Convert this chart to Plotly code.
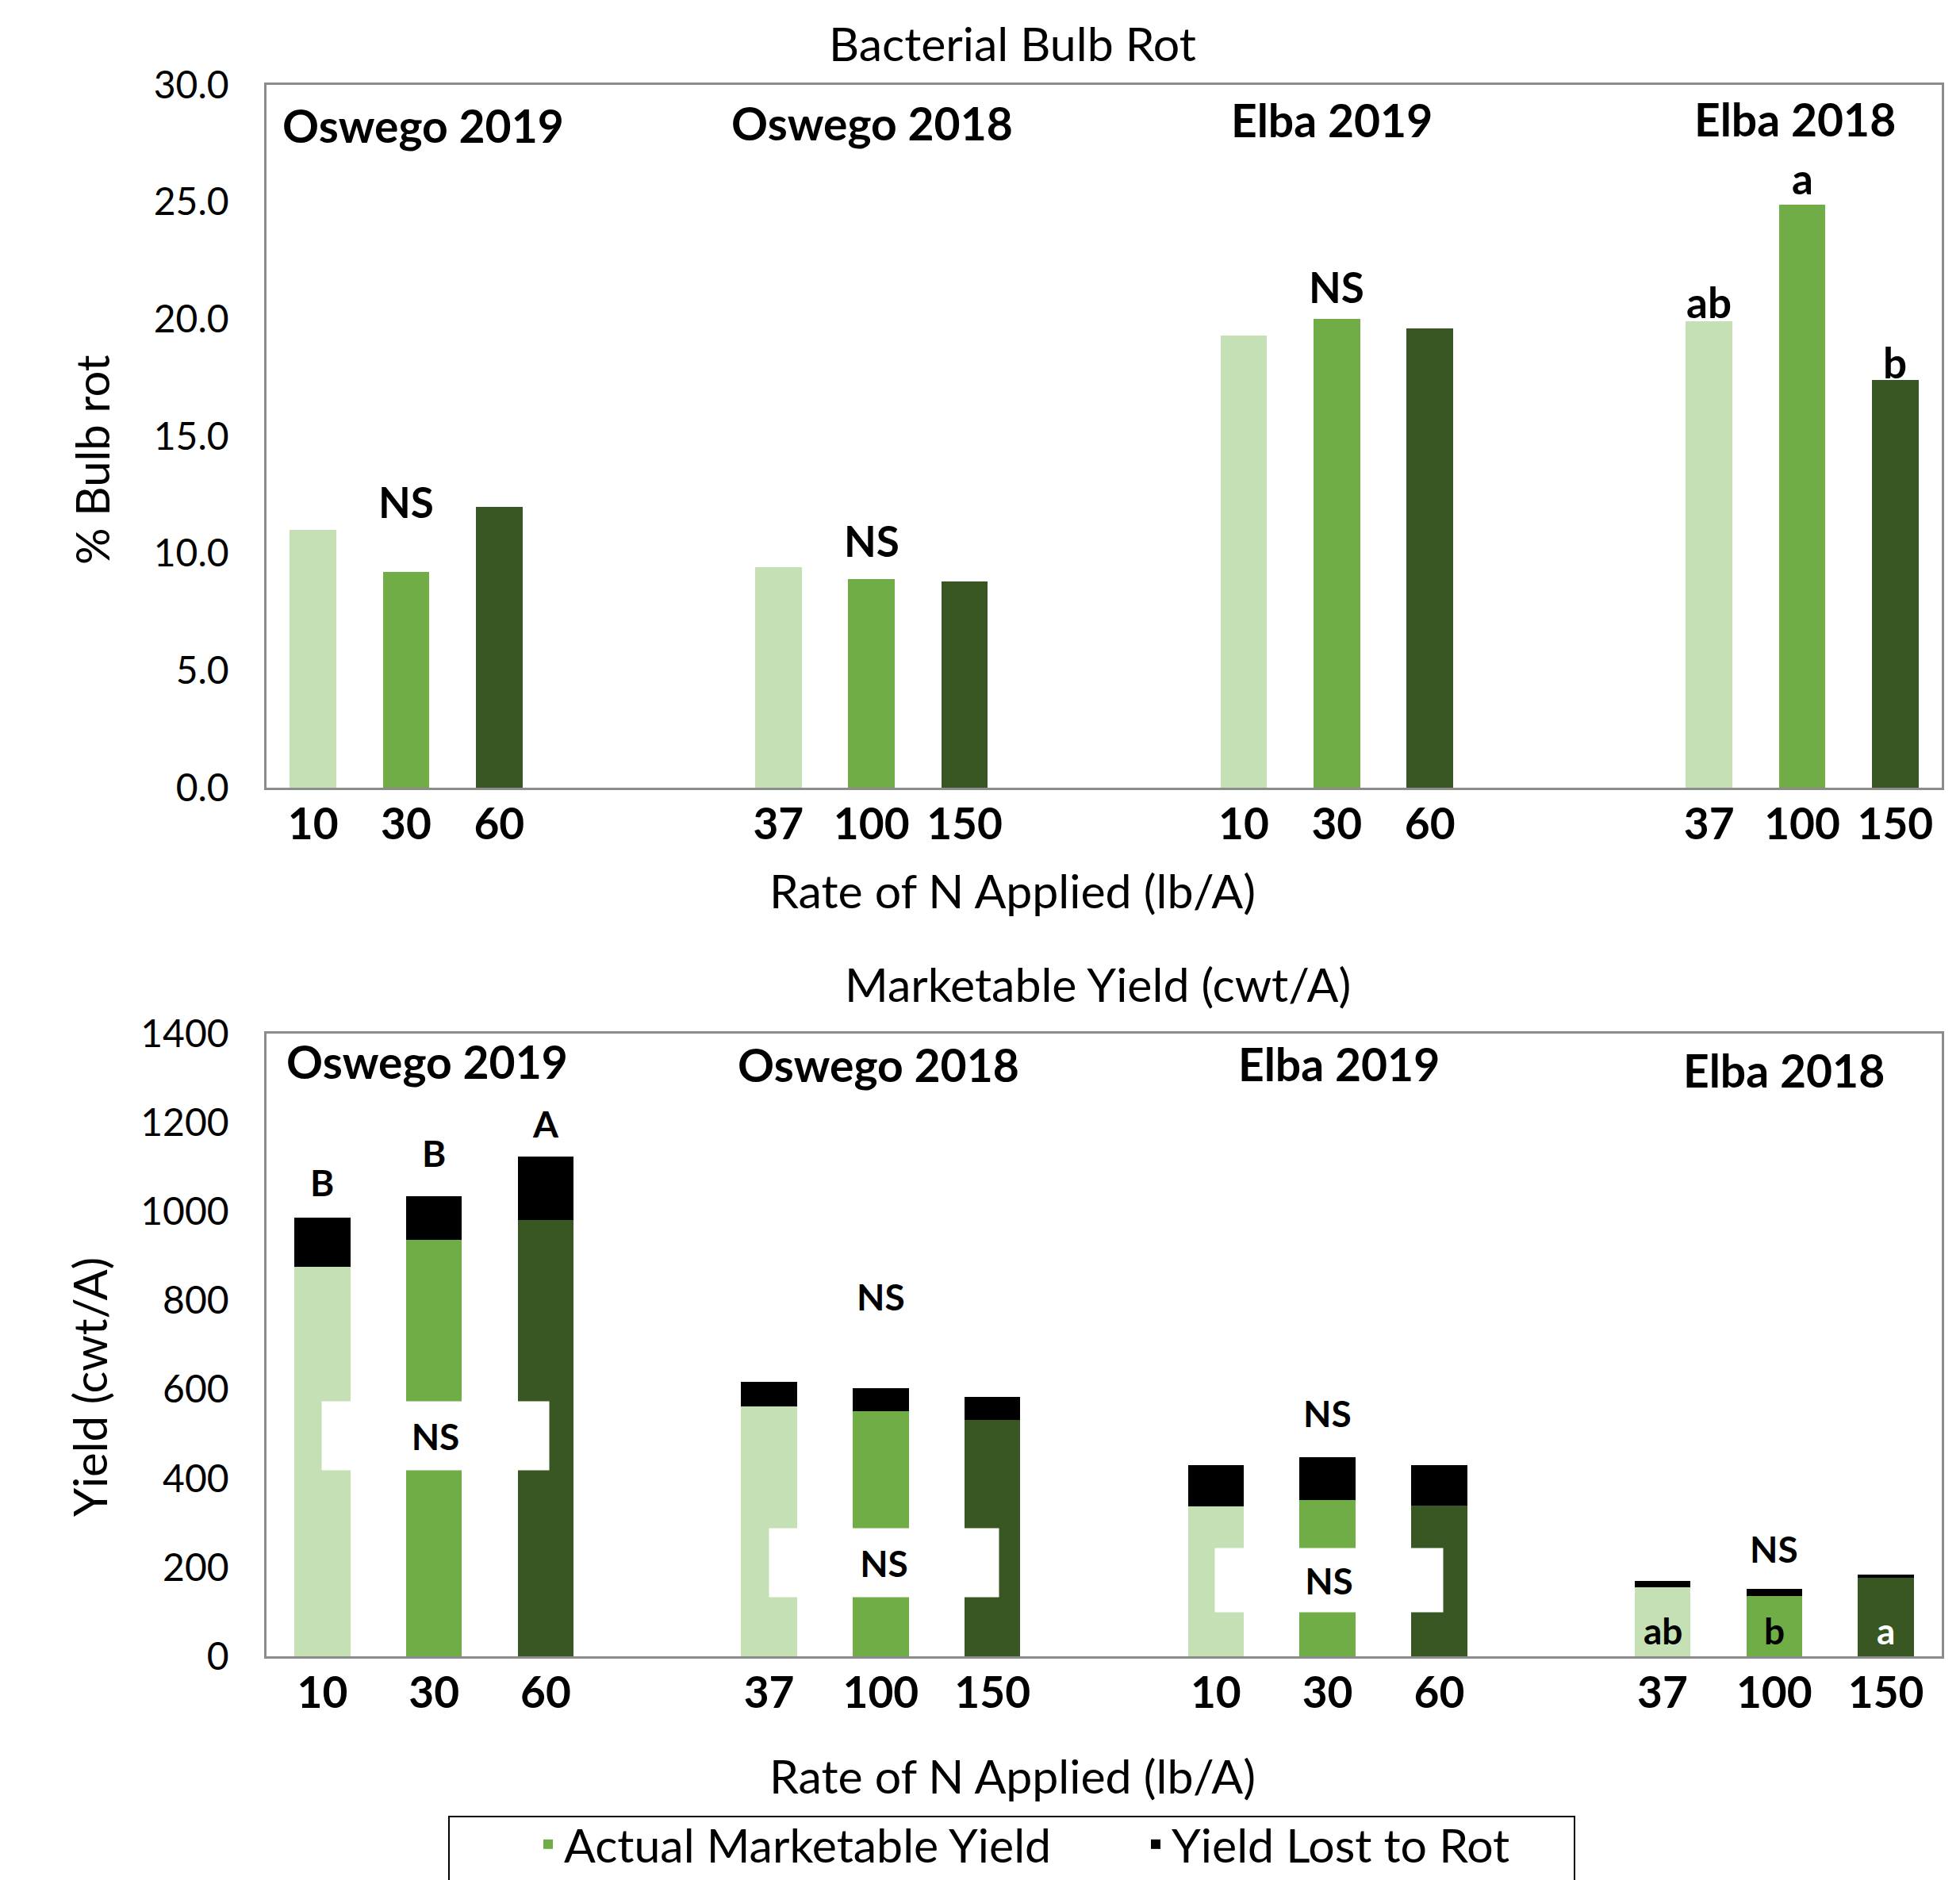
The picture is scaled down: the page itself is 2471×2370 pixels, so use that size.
import plotly.graph_objects as go

# ---------------- data ----------------
groups = ["Oswego 2019", "Oswego 2018", "Elba 2019", "Elba 2018"]
rate_labels = [["10", "30", "60"], ["37", "100", "150"], ["10", "30", "60"], ["37", "100", "150"]]
bulb_rot = [[11.0, 9.2, 12.0], [9.4, 8.9, 8.8], [19.3, 20.0, 19.6], [19.9, 24.9, 17.4]]
marketable = [[876, 937, 981], [562, 551, 532], [337, 351, 338], [156, 136, 176]]
lost_to_rot = [[110, 97, 142], [55, 52, 51], [92, 96, 91], [14, 16, 8]]

top_letters = [["", "NS", ""], ["", "NS", ""], ["", "NS", ""], ["ab", "a", "b"]]
bottom_top_letters = [["B", "B", "A"], ["", "NS", ""], ["", "NS", ""], ["", "NS", ""]]
bottom_in_letters = [["", "", ""], ["", "", ""], ["", "", ""], ["ab", "b", "a"]]
boxed_ns = ["NS", "NS", "NS", ""]

level_colors = ["#C5E0B4", "#70AD47", "#385723"]
FONT = "Lato"
W, H = 2471, 2370
OFF = 8  # page body margin offset

def px(xp):
    return (xp - OFF + 2) / W

def py(yp):
    return 1 - (yp - OFF) / H

TOP_SLOTS = 5   # 3 bars + 2 gap slots per group
BOT_SLOTS = 4   # 3 bars + 1 gap slot per group

fig = go.Figure()

# ---------------- top chart: % bulb rot ----------------
for i in range(3):
    fig.add_trace(go.Bar(
        x=[g * TOP_SLOTS + i for g in range(len(groups))],
        y=[bulb_rot[g][i] for g in range(len(groups))],
        width=0.5, marker=dict(color=level_colors[i], line=dict(width=0)),
        showlegend=False, xaxis="x", yaxis="y", name="% Bulb rot"))

# ---------------- bottom chart: yield ----------------
for i in range(3):
    fig.add_trace(go.Bar(
        x=[g * BOT_SLOTS + i for g in range(len(groups))],
        y=[marketable[g][i] for g in range(len(groups))],
        width=0.5, marker=dict(color=level_colors[i], line=dict(width=0)),
        name="Actual Marketable Yield", legendgroup="mkt", showlegend=(i == 1),
        xaxis="x2", yaxis="y2"))
fig.add_trace(go.Bar(
    x=[g * BOT_SLOTS + i for g in range(len(groups)) for i in range(3)],
    y=[lost_to_rot[g][i] for g in range(len(groups)) for i in range(3)],
    width=0.5, marker=dict(color="#000000", line=dict(width=0)),
    name="Yield Lost to Rot", xaxis="x2", yaxis="y2"))

ann = []
def A(text, x, y, size, bold=True, xref="x", yref="y", color="black", **kw):
    d = dict(text=text, x=x, y=y, xref=xref, yref=yref, showarrow=False,
             xanchor="center", yanchor="middle",
             font=dict(family=FONT, size=size, color=color, weight="bold" if bold else "normal"))
    d.update(kw)
    ann.append(d)

# group labels (top)
top_grp_pos = [(1.18, 28.27), (6.01, 28.39), (10.95, 28.5), (15.92, 28.56)]
for g, (gx, gy) in enumerate(top_grp_pos):
    A(groups[g], gx, gy, 57)
# significance letters (top)
top_letter_y = [[0, 12.22, 0], [0, 10.54, 0], [0, 21.37, 0], [20.75, 26.03, 18.17]]
for g in range(4):
    for i in range(3):
        if top_letters[g][i]:
            A(top_letters[g][i], g * TOP_SLOTS + i, top_letter_y[g][i], 53)

# group labels (bottom)
bot_grp_pos = [(0.94, 1337), (4.98, 1331), (9.1, 1333), (13.09, 1318)]
for g, (gx, gy) in enumerate(bot_grp_pos):
    A(groups[g], gx, gy, 57, xref="x2", yref="y2")
bot_letter_y = [[1065, 1131, 1198], [0, 808, 0], [0, 547, 0], [0, 242, 0]]
for g in range(4):
    for i in range(3):
        if bottom_top_letters[g][i]:
            A(bottom_top_letters[g][i], g * BOT_SLOTS + i, bot_letter_y[g][i], 46,
              xref="x2", yref="y2")
        if bottom_in_letters[g][i]:
            A(bottom_in_letters[g][i], g * BOT_SLOTS + i, 58, 46, xref="x2", yref="y2",
              color="white" if i == 2 else "black")
# white boxed "NS" labels lying over the bars
box_pos = [(1.01, 496, 286, 86), (5.03, 210, 289, 86), (9.01, 171, 287, 80)]
for g, (bx, by, bw, bh) in enumerate(box_pos):
    if boxed_ns[g]:
        A(boxed_ns[g], bx, by, 46, xref="x2", yref="y2", bgcolor="white",
          width=bw, height=bh, borderpad=0)

# titles
A("Bacterial Bulb Rot", px(1274), py(55), 59, bold=False, xref="paper", yref="paper")
A("Marketable Yield (cwt/A)", px(1382), py(1240), 59, bold=False, xref="paper", yref="paper")
A("Rate of N Applied (lb/A)", px(1274), py(1122), 59, bold=False, xref="paper", yref="paper")
A("Rate of N Applied (lb/A)", px(1274), py(2238), 59, bold=False, xref="paper", yref="paper")
A("% Bulb rot", px(113), py(580), 58, bold=False, xref="paper", yref="paper", textangle=-90)
A("Yield (cwt/A)", px(110), py(1749), 58, bold=False, xref="paper", yref="paper", textangle=-90)

line_col = "#8C8C8C"
xcommon = dict(showline=True, mirror=True, linecolor=line_col, linewidth=2.5,
               showgrid=False, zeroline=False, ticks="",
               tickfont=dict(family=FONT, size=55, color="black", weight="bold"),
               ticklabelstandoff=-4, automargin=False)
ycommon = dict(showline=True, mirror=True, linecolor=line_col, linewidth=2.5,
               showgrid=False, zeroline=False, ticks="",
               tickfont=dict(family=FONT, size=48, color="black"),
               ticklabelstandoff=35, automargin=False)

fig.update_layout(
    width=W, height=H, autosize=False,
    margin=dict(l=0, r=0, t=0, b=0, pad=0, autoexpand=False),
    paper_bgcolor="white", plot_bgcolor="white",
    barmode="stack",
    font=dict(family=FONT, color="black"),
    xaxis=dict(domain=[px(334), px(2446)], range=[-0.5, 4 * TOP_SLOTS - 2 - 0.5],
               tickvals=[g * TOP_SLOTS + i for g in range(4) for i in range(3)],
               ticktext=[rate_labels[g][i] for g in range(4) for i in range(3)],
               anchor="y", **xcommon),
    yaxis=dict(domain=[py(993), py(107)], range=[0, 30], dtick=5, tickformat=".1f",
               anchor="x", **ycommon),
    xaxis2=dict(domain=[px(334), px(2446)], range=[-0.5, 4 * BOT_SLOTS - 1 - 0.5],
                tickvals=[g * BOT_SLOTS + i for g in range(4) for i in range(3)],
                ticktext=[rate_labels[g][i] for g in range(4) for i in range(3)],
                anchor="y2", **xcommon),
    yaxis2=dict(domain=[py(2088), py(1303)], range=[0, 1400], dtick=200,
                anchor="x2", **ycommon),
    legend=dict(orientation="h", x=px(574), xanchor="left", y=py(2280), yanchor="top",
                font=dict(family=FONT, size=59, color="black"),
                bgcolor="rgba(0,0,0,0)", borderwidth=0, indentation=95,
                entrywidth=626, traceorder="normal"),
    annotations=ann,
    shapes=[dict(type="rect", xref="paper", yref="paper",
                 x0=px(564), x1=px(1983), y0=-0.02, y1=py(2290),
                 line=dict(color="black", width=2), fillcolor="rgba(0,0,0,0)")],
)

fig.write_html("out.html")
